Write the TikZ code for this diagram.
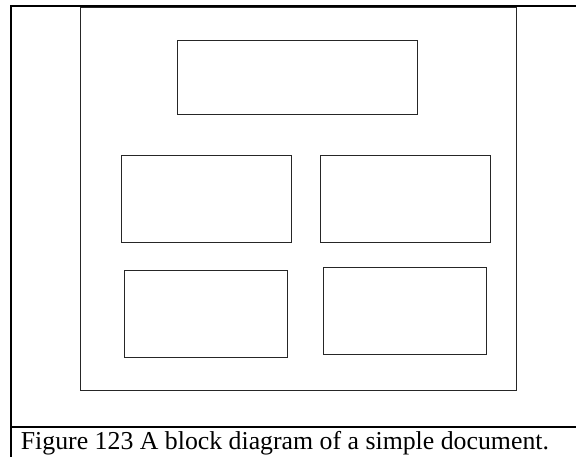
\documentclass[tikz,border=0pt]{standalone}
\usepackage{fontspec}
\setmainfont{Liberation Serif}
\begin{document}
\begin{tikzpicture}[x=1pt,y=-1pt,
  blk/.style={draw=black!85, line width=1pt, inner sep=0pt, outer sep=0pt, rectangle},
  rule/.style={draw=black, line width=1.8pt}]
\useasboundingbox (0,0) rectangle (576,457);
% outer frame lines
\coordinate (tl) at (11,5.8);
\coordinate (tr) at (576,5.8);
\coordinate (bl) at (11,457);
\coordinate (sl) at (11,426.7);
\coordinate (sr) at (576,426.7);
\draw[rule] (bl) -- (tl) -- (tr);
\draw[rule] (sl) -- (sr);
% inner frame
\node[blk, minimum width=436.5pt, minimum height=382pt] (frame) at (298.25,199) {};
% blocks
\node[blk, minimum width=239.6pt, minimum height=74pt] (top) at (297.5,78) {};
\node[blk, minimum width=169.7pt, minimum height=86.5pt] (ml) at (206.15,199.25) {};
\node[blk, minimum width=170pt, minimum height=86.7pt] (mr) at (405,199.35) {};
\node[blk, minimum width=163.4pt, minimum height=86.6pt] (lb) at (206,314) {};
\node[blk, minimum width=163pt, minimum height=86.7pt] (rb) at (404.5,310.65) {};
% caption
\node[anchor=base west, inner sep=0pt] (cap) at (20.7,449.3) {\fontsize{25.8}{30}\selectfont Figure 123 A block diagram of a simple document.};
\end{tikzpicture}
\end{document}
